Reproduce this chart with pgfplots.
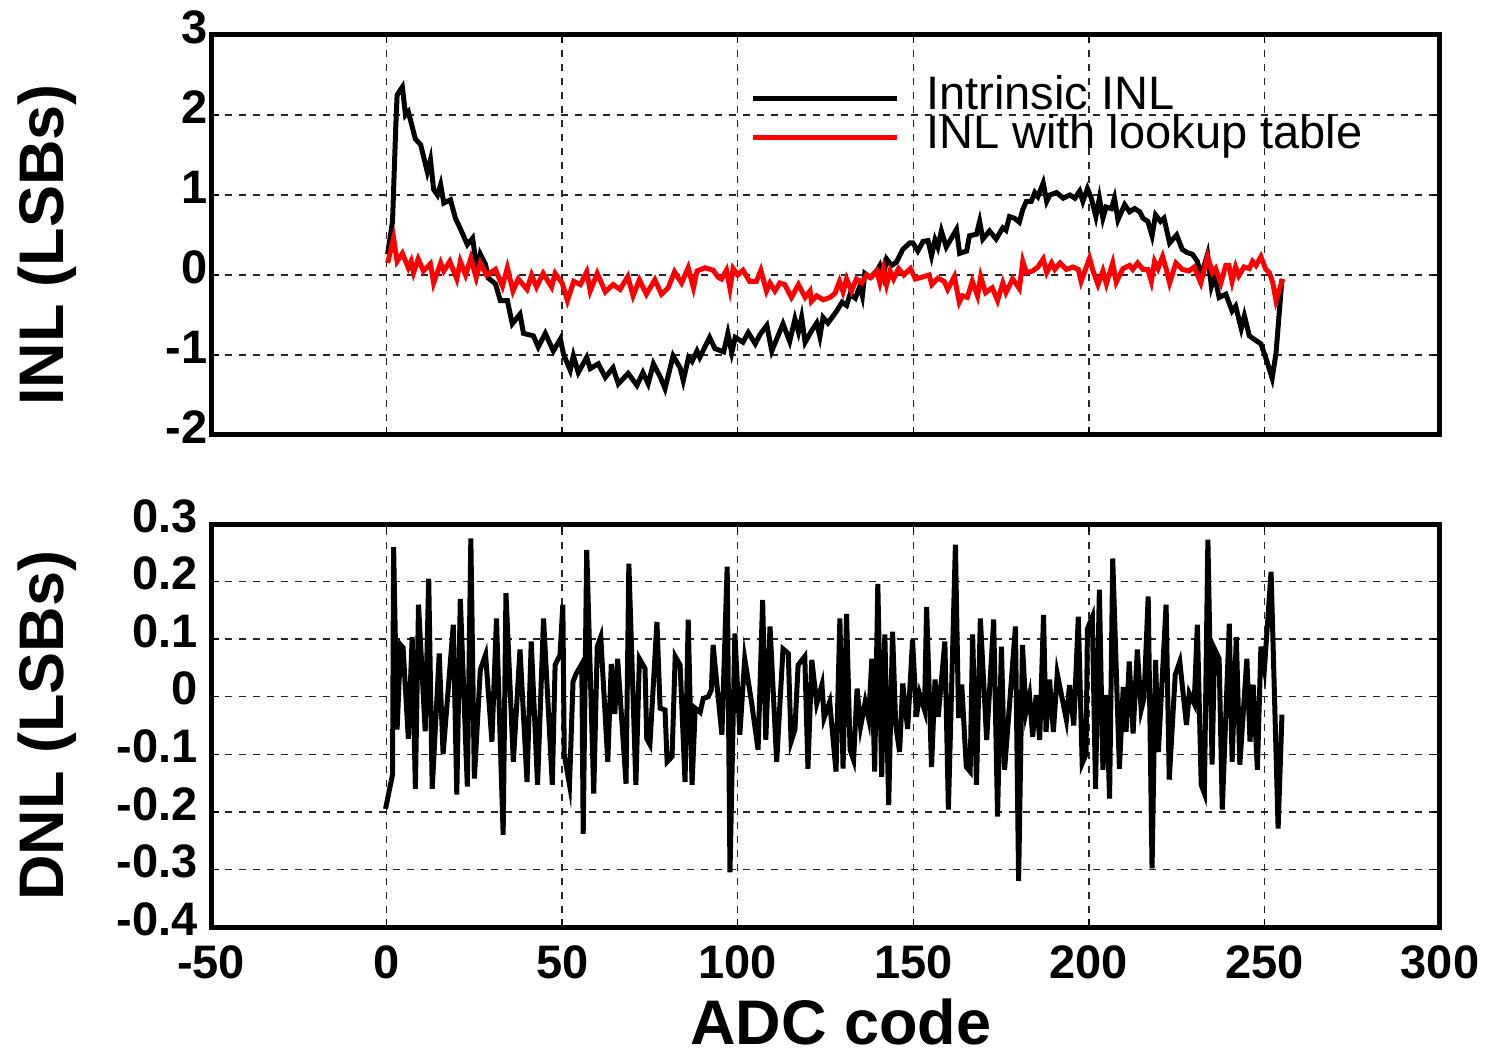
\documentclass[border=0pt]{standalone}
\usepackage{pgfplots}
\pgfplotsset{compat=1.18}
\usepackage{fontspec}
\setmainfont{Liberation Sans}
\begin{document}
\begin{tikzpicture}
\path[use as bounding box] (0pt,0pt) rectangle (1488pt,-1054pt);
\pgfplotsset{
 myaxis/.style={
  scale only axis, width=1229pt,
  xmin=-50, xmax=300, xtick={-50,0,50,100,150,200,250,300},
  axis line style={line width=5pt},
  grid=major, grid style={line width=1.5pt, dash pattern=on 7pt off 7pt, black!85},
  major tick length=8pt, tick style={line width=1.5pt, black},
  tick label style={font=\fontsize{47}{47}\selectfont\bfseries},
  yticklabel style={yshift=8pt},
  xticklabel style={yshift=-15pt},
  /pgf/number format/assume math mode=true,
  label style={font=\fontsize{63}{63}\selectfont\bfseries, inner sep=0pt},
 }
}
\begin{axis}[myaxis, at={(211pt,-35pt)}, anchor=north west, height=400pt,
  ymin=-2, ymax=3, ytick={-2,-1,0,1,2,3}, xticklabels={},
  ylabel={INL (LSBs)}, ylabel style={at={(rel axis cs:-0.1335,0.475)}, anchor=center},
  legend style={draw=none, fill=none, at={(rel axis cs:0.4426,1)}, anchor=north west, yshift=-39pt, xshift=-5pt,
    inner sep=0pt, font=\fontsize{47}{47}\selectfont,
    nodes={inner sep=0pt, text height=35pt, text depth=4pt},
    /tikz/every odd column/.style={column sep=27pt}},
  legend cell align=left,
  legend image code/.code={\draw[#1] (0pt,-5pt) -- (144pt,-5pt);},
]
\addplot[black, line width=5pt] coordinates {
(0.3,0.26)(1.7,0.67)(2.6,1.83)(3,2.25)(4.5,2.35)(5.4,2.0)(6.2,2.04)(8.2,1.70)(9.7,1.63)(11.6,1.29)(12.5,1.44)(13.4,1.07)(14.5,1.0)(15.4,1.13)(16.3,0.90)(18.2,0.94)(19.6,0.71)(21,0.58)(23,0.38)(24.5,0.46)(25.8,0.05)(26.7,0.26)(28.2,0.13)(29,-0.04)(31,-0.11)(32.4,-0.32)(34.4,-0.32)(35.8,-0.61)(38,-0.49)(39,-0.73)(41.8,-0.76)(43.2,-0.90)(45.2,-0.73)(47.5,-0.95)(49.5,-0.80)(50.4,-0.99)(52.3,-1.19)(53.2,-1.01)(54.6,-1.22)(57,-1.03)(58,-1.17)(60.3,-1.11)(62.3,-1.28)(64.5,-1.16)(66,-1.36)(68.8,-1.23)(71.3,-1.38)(73,-1.22)(74.5,-1.36)(76,-1.11)(78,-1.28)(79.3,-1.42)(80.2,-1.26)(81.6,-1.01)(83.6,-1.16)(84.5,-1.32)(86,-1.03)(87,-1.08)(88.4,-0.95)(89.2,-1.03)(92,-0.78)(93.5,-0.92)(96,-0.96)(97.2,-0.73)(98.3,-0.97)(99.3,-0.78)(101.5,-0.84)(103,-0.72)(105,-0.86)(106.4,-0.74)(108.3,-0.63)(109.7,-0.95)(112.9,-0.61)(114.8,-0.83)(116.3,-0.55)(117.3,-0.71)(118.2,-0.53)(119.2,-0.84)(121,-0.70)(122.5,-0.60)(123.4,-0.77)(124.3,-0.53)(125.7,-0.60)(128.2,-0.45)(129.7,-0.34)(131,-0.38)(132,-0.24)(133.5,-0.29)(134.8,-0.14)(135.5,-0.26)(136.2,0.02)(137.7,-0.03)(139.6,0.05)(140.5,0.12)(141.5,-0.02)(142.4,0.20)(143.8,0.12)(145.2,0.16)(147,0.32)(149,0.40)(149.9,0.40)(151.3,0.30)(152.8,0.42)(154.2,0.43)(155.2,0.24)(156.2,0.44)(157,0.35)(158,0.55)(159.4,0.35)(162.3,0.57)(163.2,0.27)(165.2,0.30)(166,0.49)(168,0.51)(168.9,0.67)(169.8,0.45)(171.7,0.55)(173.6,0.45)(175.5,0.59)(176.4,0.56)(177.4,0.73)(178.8,0.71)(180.2,0.66)(181.2,0.82)(182.2,0.92)(183.6,0.92)(184.6,1.03)(185.5,0.98)(187,1.15)(188,0.92)(188.9,1.0)(190.8,1.03)(192.7,0.96)(194.6,1.0)(196,0.96)(197.4,1.05)(198.3,0.92)(199.6,1.08)(200.7,0.96)(202,0.73)(203,0.96)(204,0.71)(204.9,0.85)(206.4,0.83)(207.3,0.96)(208.3,0.69)(210.2,0.88)(211.6,0.79)(213,0.83)(214.5,0.79)(215.4,0.71)(216.8,0.67)(218,0.49)(219,0.75)(220.4,0.67)(221.4,0.71)(223,0.40)(225,0.50)(226.6,0.32)(228,0.28)(229.5,0.26)(230.9,0.17)(232,-0.01)(233.8,0.26)(234.9,-0.14)(235.8,-0.01)(237.1,-0.28)(239,-0.24)(240.8,-0.45)(241.8,-0.39)(243.4,-0.67)(244.3,-0.51)(245.7,-0.76)(247.6,-0.82)(249,-0.86)(250.5,-1.05)(252.2,-1.29)(253.3,-0.98)(255,-0.05)
};
\addlegendentry{Intrinsic INL}
\addplot[red, line width=5pt] coordinates {
(0.3,0.15)(2,0.46)(3,0.17)(4.5,0.27)(6.2,0.09)(7,0.17)(7.7,0.03)(9,0.20)(10.5,0.05)(12.5,0.14)(13.4,-0.10)(15.4,0.15)(16.3,0.05)(18,0.17)(20,-0.05)(21,0.17)(22.5,0.0)(24,0.21)(25.5,-0.03)(26.7,0.15)(28.5,0.0)(31,0.07)(33,-0.14)(34.4,0.09)(36,-0.20)(37.5,-0.05)(40,-0.18)(41.3,0.0)(42.7,-0.15)(44.6,0.02)(47,-0.15)(48,0.02)(50,-0.10)(51.5,-0.32)(53.3,-0.08)(55.2,-0.12)(57,0.04)(58,-0.20)(60,0.02)(62.3,-0.21)(64.5,-0.12)(66.5,-0.18)(68.7,-0.02)(70.2,-0.26)(72,-0.06)(74,-0.24)(76.4,-0.06)(78.3,-0.24)(80.2,-0.16)(82,0.04)(84,-0.10)(85.9,0.09)(87.4,-0.16)(88.4,0.05)(90.7,0.09)(93,0.06)(94.5,-0.03)(95.4,-0.05)(96.8,0.06)(97.8,-0.17)(98.7,0.08)(100,0.0)(101.5,0.06)(103.4,-0.08)(105.3,-0.08)(106.6,0.06)(108.2,-0.20)(109.2,-0.10)(110.6,-0.20)(112,-0.10)(113.4,-0.12)(115.3,-0.28)(117.3,-0.12)(119.2,-0.28)(120.6,-0.20)(121,-0.33)(122.5,-0.26)(124.4,-0.31)(126.3,-0.28)(127.7,-0.23)(129,-0.08)(130,-0.21)(131,-0.05)(132.4,-0.20)(133.8,-0.05)(135.3,-0.10)(136.7,0.0)(138,-0.03)(139.6,0.05)(140.5,-0.10)(141.5,0.08)(142.4,-0.12)(143.4,0.05)(144.4,-0.05)(145.8,0.08)(147.3,0.0)(149.2,0.08)(150.6,-0.05)(153,-0.02)(154.5,0.0)(155.3,-0.12)(157,-0.04)(158.8,-0.08)(159.8,-0.18)(161.7,-0.02)(163.1,-0.34)(164,-0.26)(165.4,-0.28)(166.8,-0.08)(168.3,-0.26)(169.2,-0.02)(170.6,-0.22)(172.5,-0.16)(174,-0.32)(175.5,-0.10)(176.4,-0.22)(178.3,-0.05)(180.2,-0.17)(181.2,0.17)(182.2,0.03)(184,0.05)(185.5,0.10)(187,0.20)(188,0.03)(189.4,0.15)(190.3,0.07)(191.8,0.15)(193.6,0.07)(195.5,0.10)(197,0.07)(197.8,-0.08)(200.2,0.21)(201.2,0.05)(202.6,-0.12)(204,0.05)(205,-0.11)(206.8,0.15)(207.8,-0.09)(209.7,0.08)(211.6,0.12)(212.5,0.07)(213.9,0.15)(215.4,0.07)(216.8,0.07)(217.8,-0.08)(218.7,0.17)(219.7,0.08)(221,0.23)(222,0.08)(223,-0.10)(224.8,0.15)(226.6,0.07)(228.5,0.05)(230,0.10)(231.9,-0.10)(233.8,0.23)(235.2,0.03)(236.1,0.08)(237.6,-0.10)(239,0.12)(239.9,0.12)(240.8,-0.08)(241.8,0.10)(242.7,-0.01)(244.2,0.10)(245.7,0.08)(246.6,0.17)(247.6,0.12)(249,0.23)(250.4,0.07)(251.4,0.03)(252.4,-0.10)(253.3,-0.32)(255.2,-0.05)
};
\addlegendentry{INL with lookup table}
\end{axis}
\begin{axis}[myaxis, at={(211pt,-524pt)}, anchor=north west, height=403pt,
  ymin=-0.4, ymax=0.3, ytick={-0.4,-0.3,-0.2,-0.1,0,0.1,0.2,0.3},
  yticklabel style={xshift=-10pt},
  ylabel={DNL (LSBs)}, ylabel style={at={(rel axis cs:-0.1335,0.50)}, anchor=center},
  xlabel={ADC code}, xlabel style={at={(rel axis cs:0.5126,-0.2365)}, anchor=center},
]
\addplot[black, line width=5pt] coordinates {
(-0.3,-0.195)(1.7,-0.135)(2,0.26)(3,-0.057)(4,0.09)(4.7,0.085)(6.2,-0.073)(7.3,0.104)(8.2,-0.16)(9.1,0.16)(11,-0.06)(12,0.205)(13,-0.16)(15,0.075)(16.1,-0.1)(19,0.125)(20,-0.17)(21,0.17)(23,-0.156)(24,0.275)(25,-0.142)(26.7,0.047)(28.2,0.073)(30,-0.078)(31.3,0.136)(33.2,-0.24)(34,0.18)(36.1,-0.113)(38,0.082)(40,-0.148)(41.2,0.096)(43,-0.153)(44.7,0.136)(47.2,-0.153)(48,0.055)(49.4,0.073)(50.2,0.16)(50.6,-0.1)(52.1,-0.153)(53.1,0.026)(54,0.04)(55.6,0.057)(56,-0.238)(57,0.255)(59,-0.168)(60,0.087)(61,0.104)(63,-0.113)(64,0.057)(65,-0.03)(65.8,0.066)(68.2,-0.151)(69,0.231)(71,-0.153)(72,0.066)(73.6,0.049)(74.1,-0.073)(75,-0.083)(77,0.13)(77.9,-0.02)(79.3,-0.023)(79.9,-0.113)(81.3,-0.104)(82.2,0.07)(83.6,0.055)(85,-0.148)(85.9,0.134)(87,-0.153)(87.9,-0.02)(89.3,-0.027)(90.2,-0.003)(91.6,0.0)(92.5,0.012)(93,0.09)(94,0.026)(95.5,-0.066)(97,0.226)(97.8,-0.305)(99.2,0.11)(100.6,-0.066)(102,0.066)(104,-0.012)(105.8,-0.092)(107.1,0.168)(108,-0.075)(109.2,0.122)(111.1,-0.113)(112.9,0.083)(114.4,0.075)(115.2,-0.078)(116.3,-0.057)(117.2,0.055)(119.1,0.07)(120,-0.125)(121.1,0.064)(122.5,-0.012)(124,0.021)(124.6,-0.037)(126.2,-0.009)(128,-0.13)(129.1,0.136)(130,-0.125)(131,0.144)(132,-0.092)(133,-0.11)(134,0.014)(135,-0.052)(136.3,-0.009)(137.3,-0.038)(138.2,0.066)(139,-0.13)(139.9,0.196)(141,-0.139)(141.9,0.108)(143,-0.188)(144.1,0.113)(145,-0.049)(146.1,-0.096)(147,0.023)(148.4,-0.056)(149.8,0.099)(150.9,-0.035)(151.8,0.005)(153.2,-0.023)(153.8,0.156)(155.2,-0.122)(156.2,0.03)(157.1,-0.035)(159,0.096)(160,-0.196)(162,0.264)(162.9,-0.037)(163.8,0.021)(165.1,-0.122)(166.2,-0.13)(166.9,0.108)(168,-0.153)(169.1,0.136)(170.9,-0.075)(172.9,0.134)(174,-0.208)(175.1,0.087)(176,-0.127)(179.1,0.122)(180,-0.32)(181.1,0.09)(182.1,-0.026)(183.1,0.003)(184,-0.07)(185,0.003)(186,-0.075)(187.1,0.142)(187.8,-0.061)(188.8,0.03)(189.9,-0.061)(191,0.04)(193.6,-0.04)(194.5,0.02)(195.7,-0.05)(197,0.139)(198.1,-0.116)(199.2,-0.1)(199.6,0.118)(201,0.139)(201.9,-0.16)(203,0.186)(204,-0.127)(205,0.003)(205.9,-0.177)(206.8,0.24)(208.7,-0.125)(209.8,0.017)(210.6,-0.061)(211.5,0.061)(212.6,-0.064)(213.8,0.082)(214.9,-0.023)(215.7,-0.003)(216.9,0.174)(218,-0.298)(219,0.064)(219.8,-0.096)(222,0.16)(222.9,-0.144)(224.6,0.038)(225.9,0.061)(227.8,-0.049)(228.6,0.006)(230,-0.012)(230.9,0.125)(232,-0.153)(232.9,-0.168)(233.9,0.273)(235.1,-0.118)(235.8,0.083)(237.1,0.066)(238,-0.196)(240,0.127)(240.8,-0.113)(242,0.104)(243,-0.118)(245,0.066)(245.9,-0.078)(246.8,0.021)(248,-0.127)(249,0.087)(250,0.049)(251.9,0.217)(253.9,-0.229)(255,-0.031)
};
\end{axis}
\end{tikzpicture}
\end{document}
